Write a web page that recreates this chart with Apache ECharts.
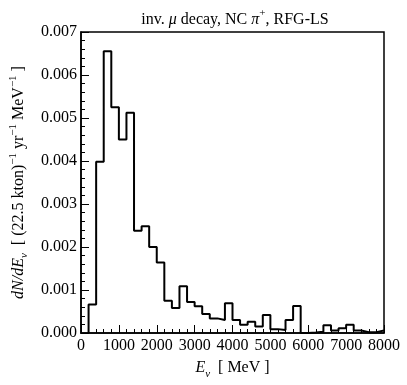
<!DOCTYPE html>
<html><head><meta charset="utf-8">
<script src="https://cdn.jsdelivr.net/npm/echarts@6/dist/echarts.min.js"></script>
<style>html,body{margin:0;padding:0;background:#fff}#c{width:407px;height:385px}</style>
</head><body><div id="c"></div>
<script>
// bin lower edges (MeV), bin width 200 MeV
var binEdges = [200,400,600,800,1000,1200,1400,1600,1800,2000,2200,2400,2600,2800,3000,3200,3400,3600,3800,4000,4200,4400,4600,4800,5000,5200,5400,5600,5800,6000,6200,6400,6600,6800,7000,7200,7400,7600,7800];
var binUpperEnd = 8000;
var rates = [0.00066,0.00398,0.00655,0.00525,0.00450,0.00512,0.00238,0.00248,0.00200,0.00164,0.00075,0.00058,0.00109,0.00072,0.00062,0.00044,0.00034,0.00030,0.00069,0.00030,0.00019,0.00026,0.00015,0.00042,0.00009,0.00007,0.00030,0.00063,0.00000,0.00001,0.00003,0.00018,0.00006,0.00011,0.00019,0.00006,0.00002,0.00002,0.00006];
var xTicks = [0,1000,2000,3000,4000,5000,6000,7000,8000];
var yTicks = [0.000,0.001,0.002,0.003,0.004,0.005,0.006,0.007];

var pts = [[binEdges[0], 0]];
for (var i = 0; i < binEdges.length; i++) pts.push([binEdges[i], rates[i]]);
pts.push([binUpperEnd, rates[rates.length-1]]);

var F = 'Liberation Serif';
var chart = echarts.init(document.getElementById('c'), null, {renderer:'canvas'});
chart.setOption({
  animation:false,
  backgroundColor:'#fff',
  title:{
    text:'{n|inv. }{i|μ}{n| decay, NC }{i|π}{s|+}{n|, RFG-LS}',
    left:230, textAlign:'center', top:3,
    textStyle:{fontWeight:'normal',rich:{
      n:{fontFamily:F,fontSize:16,fontWeight:'normal',color:'#000',lineHeight:20,verticalAlign:'bottom'},
      i:{fontFamily:F,fontSize:16,fontWeight:'normal',fontStyle:'italic',color:'#000',lineHeight:20,verticalAlign:'bottom'},
      s:{fontFamily:F,fontSize:11,fontWeight:'normal',color:'#000',lineHeight:20,verticalAlign:'top'}
    }}
  },
  grid:{left:77,right:23,top:32,bottom:49,show:true,borderColor:'#000',borderWidth:1.5,backgroundColor:'transparent'},
  xAxis:{
    type:'value',min:0,max:8000,interval:1000,
    name:'{i|E}{b|ν}{n|  [ MeV ]}',nameLocation:'middle',nameGap:27,
    nameTextStyle:{rich:{
      i:{fontFamily:F,fontSize:16,fontStyle:'italic',color:'#000',lineHeight:20,verticalAlign:'top'},
      b:{fontFamily:F,fontSize:11,fontStyle:'italic',color:'#000',lineHeight:20,verticalAlign:'bottom'},
      n:{fontFamily:F,fontSize:16,color:'#000',lineHeight:20,verticalAlign:'top'}
    }},
    axisLine:{lineStyle:{color:'#000',width:1.5}},
    axisTick:{inside:true,length:8,lineStyle:{color:'#000',width:1}},
    minorTick:{show:true,splitNumber:5,length:4,lineStyle:{color:'#000',width:1}},
    axisLabel:{fontFamily:F,fontSize:16,color:'#000',margin:5,formatter:function(v){return xTicks.indexOf(v)>=0?String(v):'';}},
    splitLine:{show:false}
  },
  yAxis:{
    type:'value',min:0,max:0.007,interval:0.001,
    name:'{i|dN/dE}{b|ν}{n|  [ (22.5 kton)}{s|−1}{n| yr}{s|−1}{n| MeV}{s|−1}{n| ]}',
    nameLocation:'middle',nameRotate:90,nameGap:51,
    nameTextStyle:{rich:{
      i:{fontFamily:F,fontSize:16,fontStyle:'italic',color:'#000',lineHeight:22,verticalAlign:'middle'},
      b:{fontFamily:F,fontSize:11,fontStyle:'italic',color:'#000',lineHeight:22,verticalAlign:'bottom'},
      n:{fontFamily:F,fontSize:16,color:'#000',lineHeight:22,verticalAlign:'middle'},
      s:{fontFamily:F,fontSize:11,color:'#000',lineHeight:22,verticalAlign:'top'}
    }},
    axisLine:{lineStyle:{color:'#000',width:1.5}},
    axisTick:{inside:true,length:8,lineStyle:{color:'#000',width:1}},
    minorTick:{show:true,splitNumber:5,length:4,lineStyle:{color:'#000',width:1}},
    axisLabel:{fontFamily:F,fontSize:16,color:'#000',margin:4,formatter:function(v){return v.toFixed(3);}},
    splitLine:{show:false}
  },
  series:[{
    type:'line',step:'end',data:pts,symbol:'none',
    lineStyle:{color:'#000',width:2},
    clip:true
  }]
});
</script></body></html>
